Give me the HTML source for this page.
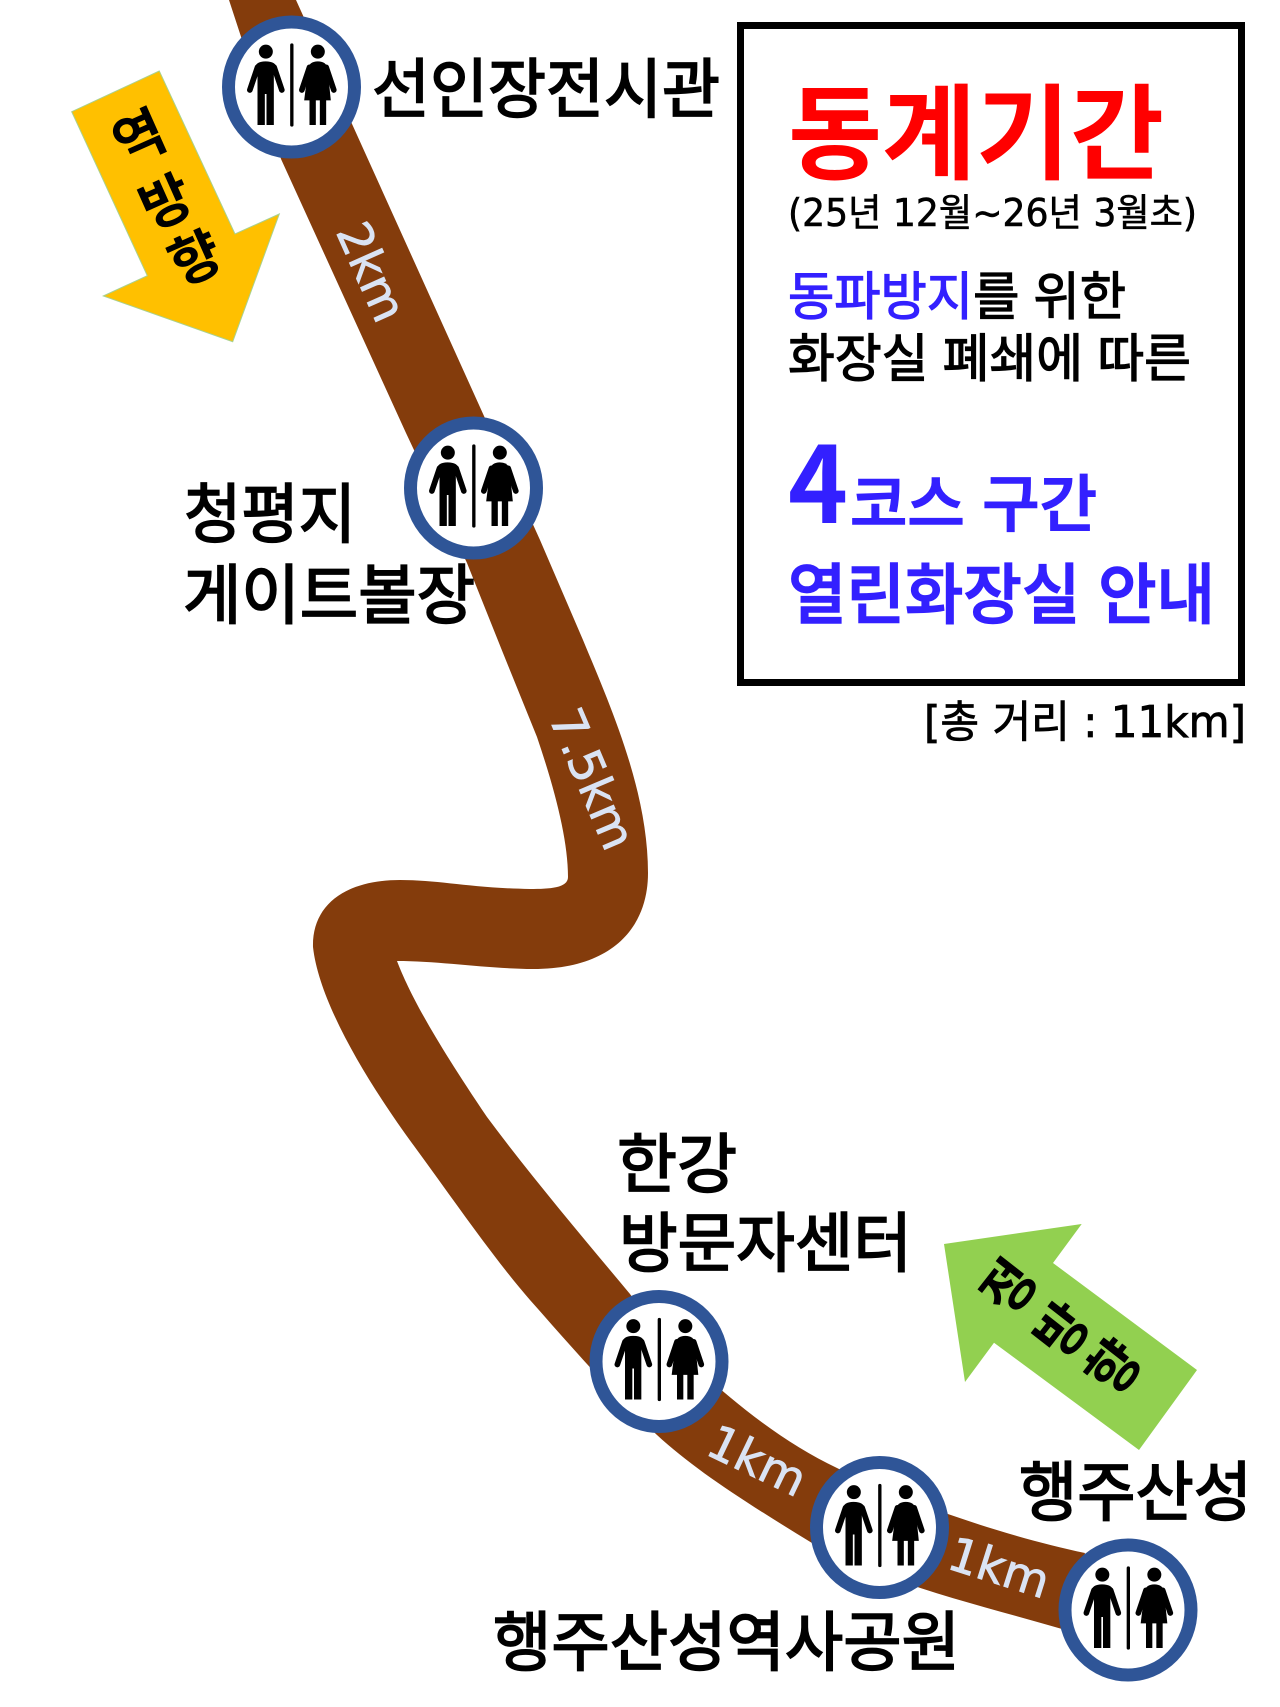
<!DOCTYPE html>
<html lang="ko"><head><meta charset="utf-8"><title>4코스 구간 열린화장실 안내</title>
<style>
html,body{margin:0;padding:0;background:#fff}
svg{display:block}
text{font-family:"Noto Sans CJK KR","NanumGothic",sans-serif;fill:#000}
.lb{font-size:65px;stroke:#000;stroke-width:1.8px}
.km{font-family:"DejaVu Sans","Liberation Sans",sans-serif;font-size:47px;fill:#DAE3F3;stroke:#DAE3F3;stroke-width:.8px;text-anchor:middle}
.ar{font-size:55px;font-weight:700;text-anchor:middle}
.mx{font-family:"DejaVu Sans","Noto Sans CJK KR",sans-serif}
.blue{fill:#3320FF}
</style></head><body>
<svg xmlns="http://www.w3.org/2000/svg" width="1280" height="1707" viewBox="0 0 1280 1707">
<defs>
<g id="wc">
  <ellipse cx="0" cy="0" rx="63" ry="65" fill="#fff" stroke="#2F5597" stroke-width="13"/>
  <g transform="scale(.3333) translate(-200,-201)" fill="#000">
    <rect x="196" y="70" width="10" height="250" rx="5"/>
    <circle cx="123" cy="95" r="21"/>
    <path d="M98 315V165H90V145Q92 124 122 124Q154 124 156 145V165H147V315H125V222H120V315Z"/>
    <path d="M98 142L75 210M148 142L171 210" stroke="#000" stroke-width="17" stroke-linecap="round" fill="none"/>
    <circle cx="279" cy="95" r="21"/>
    <path d="M250 145Q254 124 279 124Q304 124 308 145L318 241H238Z"/>
    <rect x="254" y="238" width="19" height="77"/><rect x="285" y="238" width="19" height="77"/>
    <path d="M254 142L231 210M304 142L327 210" stroke="#000" stroke-width="17" stroke-linecap="round" fill="none"/>
  </g>
</g>
</defs>
<rect width="1280" height="1707" fill="#fff"/>

<path fill="#843C0C" d="M296 0L484 416L540 540L583 640C610 705 648 790 648 873C648 925 615 969 533 969C490 969 440 961 397 961C410 995 435 1040 487 1117C530 1175 585 1240 630 1294C655 1330 745 1425 837 1468C900 1500 1000 1535 1085 1553L1062 1629C980 1605 890 1585 812 1543C745 1502 695 1470 657 1435C610 1392 570 1345 530 1300C495 1260 450 1195 417 1150C380 1100 320 1010 313 947C312 905 345 880 400 880C440 880 470 888 530 889C550 889 568 888 568 877C568 840 555 790 537 737L503 653L467 563L406 433L281 159L229 0Z"/>

<polygon points="159.3,71 71.7,111.7 147.3,275.7 103.3,296 232.7,341.7 279.3,214 235,234" fill="#FFC000" stroke="#A9D18E" stroke-width="1"/>
<polygon points="1081.7,1224 944,1244 965,1382 994,1342.7 1139,1450 1197,1370 1053,1263" fill="#92D050"/>

<use href="#wc" x="291.5" y="87"/>
<use href="#wc" x="473.5" y="488"/>
<use href="#wc" x="659" y="1361.5"/>
<use href="#wc" x="879.5" y="1527.5"/>
<use href="#wc" x="1128" y="1610"/>

<text class="km" transform="translate(371,272) rotate(66)" y="16">2km</text>
<text class="km" transform="translate(592,779) rotate(67)" y="16">7.5km</text>
<text class="km" transform="translate(757,1461) rotate(25.6)" y="16">1km</text>
<text class="km" transform="translate(999,1568) rotate(17.5)" y="16">1km</text>

<text class="ar" transform="translate(139,137) rotate(-24)" y="20">역</text>
<text class="ar" transform="translate(165.7,201.7) rotate(-24)" y="20">방</text>
<text class="ar" transform="translate(195,258) rotate(-24)" y="20">향</text>
<text class="ar" transform="translate(1008.7,1286.7) rotate(-52)" y="20">정</text>
<text class="ar" transform="translate(1062,1330) rotate(-52)" y="20">방</text>
<text class="ar" transform="translate(1113.7,1366.7) rotate(-52)" y="20">향</text>

<text class="lb" x="372" y="112" textLength="348" lengthAdjust="spacingAndGlyphs">선인장전시관</text>
<text class="lb" x="184" y="537" textLength="172" lengthAdjust="spacingAndGlyphs">청평지</text>
<text class="lb" x="183" y="618" textLength="292" lengthAdjust="spacingAndGlyphs">게이트볼장</text>
<text class="lb" x="617" y="1187" textLength="120" lengthAdjust="spacingAndGlyphs">한강</text>
<text class="lb" x="619" y="1266" textLength="293" lengthAdjust="spacingAndGlyphs">방문자센터</text>
<text class="lb" x="1019" y="1515" textLength="233" lengthAdjust="spacingAndGlyphs">행주산성</text>
<text class="lb" x="493" y="1665" textLength="467" lengthAdjust="spacingAndGlyphs">행주산성역사공원</text>

<rect x="740.5" y="25.5" width="501" height="657" fill="none" stroke="#000" stroke-width="7"/>

<text x="788" y="171" font-size="104" font-weight="700" style="fill:#f00" textLength="376" lengthAdjust="spacingAndGlyphs">동계기간</text>
<text class="mx" x="788" y="226" font-size="38" stroke="#000" stroke-width=".6" textLength="409" lengthAdjust="spacingAndGlyphs">(25년 12월~26년 3월초)</text>
<text x="788" y="315" font-size="52" stroke="#000" stroke-width="1.2" textLength="338" lengthAdjust="spacingAndGlyphs"><tspan class="blue" stroke="#3320FF">동파방지</tspan>를 위한</text>
<text x="788" y="377" font-size="52" stroke="#000" stroke-width="1.2" textLength="403" lengthAdjust="spacingAndGlyphs">화장실 폐쇄에 따른</text>
<text class="blue" x="788" y="523" font-size="106" font-weight="700" textLength="60" lengthAdjust="spacingAndGlyphs">4</text>
<text class="blue" x="850" y="526" font-size="62" font-weight="500" stroke="#3320FF" stroke-width="1.4" textLength="247" lengthAdjust="spacingAndGlyphs">코스 구간</text>
<text class="blue" x="788" y="618" font-size="66" font-weight="500" stroke="#3320FF" stroke-width="1.4" textLength="427" lengthAdjust="spacingAndGlyphs">열린화장실 안내</text>
<text class="mx" x="924" y="737" font-size="44" stroke="#000" stroke-width=".8" textLength="322" lengthAdjust="spacingAndGlyphs">[총 거리 : 11km]</text>
</svg>
</body></html>
